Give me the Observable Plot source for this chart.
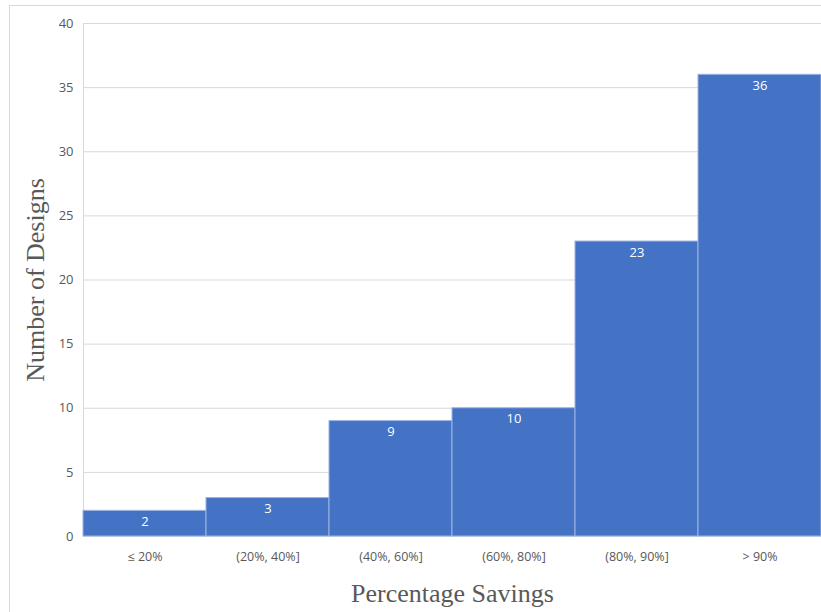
<!DOCTYPE html>
<html>
<head>
<meta charset="utf-8">
<script src="https://cdn.jsdelivr.net/npm/d3@7"></script>
<script src="https://cdn.jsdelivr.net/npm/@observablehq/plot@0.6"></script>
<style>
  html, body { margin: 0; padding: 0; background: #fff; }
  #chart { position: relative; width: 821px; height: 612px; }
  #border { position: absolute; left: 9px; top: 5px; width: 830px; height: 620px; border: 1px solid #d9d9d9; box-sizing: border-box; }
  #chart svg { position: absolute; left: 0; top: 0; }
</style>
</head>
<body>
<div id="chart"><div id="border"></div></div>
<script>
const categories = ["≤ 20%", "(20%, 40%]", "(40%, 60%]", "(60%, 80%]", "(80%, 90%]", "> 90%"];
const counts = [2, 3, 9, 10, 23, 36];
const yTicks = [0, 5, 10, 15, 20, 25, 30, 35, 40];
const xTitle = "Percentage Savings";
const yTitle = "Number of Designs";

const data = categories.map((c, i) => ({category: c, count: counts[i]}));

const chart = Plot.plot({
  width: 821,
  height: 612,
  marginLeft: 83,
  marginRight: 0,
  marginTop: 23,
  marginBottom: 76,
  style: {background: "transparent", fontFamily: "'Open Sans', sans-serif", fontSize: "13px", color: "#595959"},
  x: {domain: categories, padding: 0, label: null},
  y: {domain: [0, 40], ticks: yTicks, label: null},
  marks: [
    Plot.gridY(yTicks, {stroke: "#d9d9d9", strokeOpacity: 1}),
    Plot.frame({anchor: "left", stroke: "#d9d9d9"}),
    Plot.barY(data, {x: "category", y: "count", fill: "#4472C4", stroke: "#9db4e3", strokeWidth: 1, inset: 0}),
    Plot.text(data, {x: "category", y: "count", text: d => String(d.count), fill: "white", dy: 11, fontSize: 13, lineAnchor: "middle"}),
    Plot.axisY(yTicks, {tickSize: 0, tickPadding: 10, fill: "#595959", fontSize: 13, label: null}),
    Plot.axisX({tickSize: 0, tickPadding: 16, fill: "#595959", fontSize: 12.5, label: null}),
    Plot.text([yTitle], {frameAnchor: "left", dx: -48, rotate: -90, fontFamily: "'Liberation Serif', 'Times New Roman', serif", fontSize: 26, fill: "#595959", textAnchor: "middle", lineAnchor: "middle"}),
    Plot.text([xTitle], {frameAnchor: "bottom", dy: 57, fontFamily: "'Liberation Serif', 'Times New Roman', serif", fontSize: 26, fill: "#595959", textAnchor: "middle", lineAnchor: "middle"})
  ]
});
document.getElementById("chart").appendChild(chart);
</script>
</body>
</html>
